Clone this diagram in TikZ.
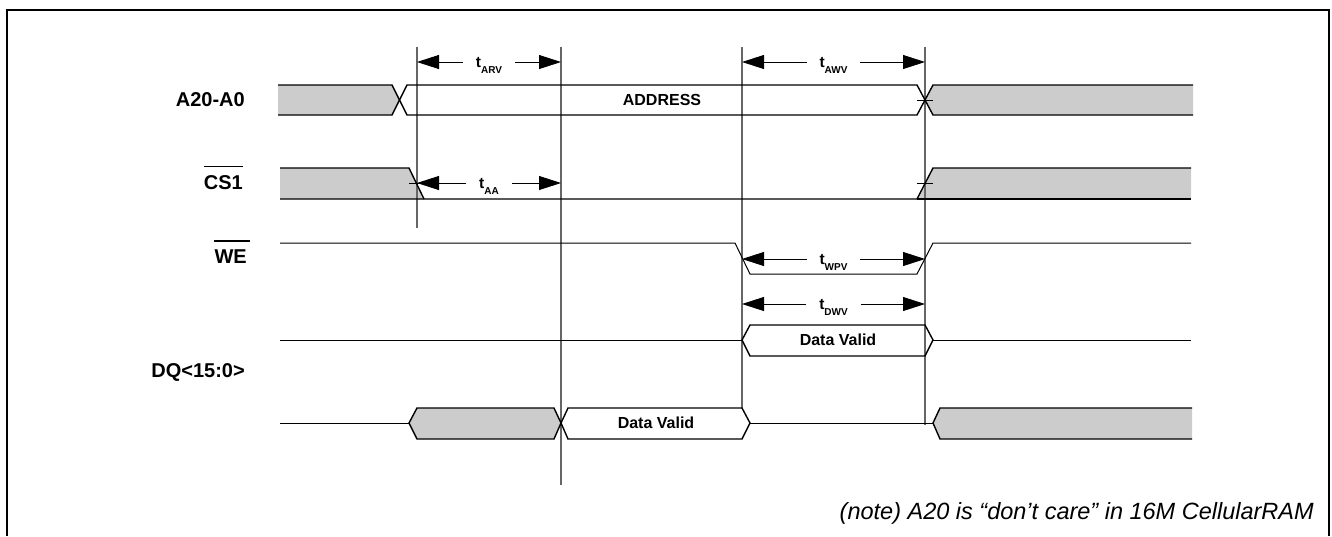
\documentclass[tikz,border=0pt]{standalone}
\usepackage{fontspec}
\setmainfont{Liberation Sans}
\usetikzlibrary{arrows.meta}
\newcommand\tsub[1]{{\fontsize{15.5}{15.5}\selectfont t}\raisebox{-6pt}{\fontsize{10}{10}\selectfont #1}}
\begin{document}
\begin{tikzpicture}[x=1pt,y=-1pt,
 bus/.style={line width=1.4pt, black, line join=miter},
 greyfill/.style={fill=black!20},
 sig/.style={line width=1pt, black},
 vline/.style={line width=1.1pt, black!60},
 dim/.style={line width=0.8pt, black, {Triangle[length=22pt,width=14pt]}-{Triangle[length=22pt,width=14pt]}},
 tlab/.style={fill=white, inner xsep=13pt, inner ysep=0pt, yshift=-3pt, font=\bfseries},
 sigl/.style={anchor=east, inner sep=0pt, font=\fontsize{20}{20}\selectfont\bfseries},
 txt/.style={inner sep=0pt, font=\fontsize{16}{16}\selectfont\bfseries},
 tick/.style={line width=0.7pt, black},
 ovl/.style={line width=1.3pt, black}]
\useasboundingbox (0,0) rectangle (1332,536);
% frame
\draw[line width=1.3pt] (7,536) -- (7,10) -- (1329,10) -- (1329,536);

% grey fills
\fill[greyfill] (278,85) -- (392,85) -- (399.5,100) -- (392,115) -- (278,115) -- cycle;
\fill[greyfill] (925,100) -- (933,85) -- (1193,85) -- (1193,115) -- (933,115) -- cycle;
\fill[greyfill] (280,168) -- (409,168) -- (424,199) -- (280,199) -- cycle;
\fill[greyfill] (917,199) -- (933,168) -- (1191,168) -- (1191,199) -- cycle;
\fill[greyfill] (409,423) -- (417,408) -- (554,408) -- (561,423) -- (554,439) -- (417,439) -- cycle;
\fill[greyfill] (933,423) -- (940,408) -- (1192,408) -- (1192,439) -- (940,439) -- cycle;

% vertical reference lines
\coordinate (v1t) at (417,47); \coordinate (v1b) at (417,228);
\coordinate (v2t) at (561,47); \coordinate (v2b) at (561,485);
\coordinate (v3t) at (742,47); \coordinate (v3b) at (742,408);
\coordinate (v4t) at (925,47); \coordinate (v4b) at (925,425);
\draw[vline] (v1t) -- (v1b);
\draw[vline] (v2t) -- (v2b);
\draw[vline] (v3t) -- (v3b);
\draw[vline] (v4t) -- (v4b);

% A20-A0
\draw[bus] (278,85) -- (392,85) -- (407,115) -- (917,115) -- (933,85) -- (1193,85);
\draw[bus] (278,115) -- (392,115) -- (407,85) -- (917,85) -- (933,115) -- (1193,115);
\draw[tick] (917,100) -- (933,100);
\node[txt] (addr) at (662,100) {ADDRESS};

% CS1
\draw[bus] (280,168) -- (409,168) -- (424,199);
\draw[bus] (280,199) -- (917,199) -- (933,168) -- (1191,168);
\draw[bus] (917,199) -- (1191,199);
\draw[tick] (409,183) -- (425,183);
\draw[tick] (917,183) -- (933,183);

% WE
\draw[sig] (280,243) -- (735,243) -- (750,274) -- (917,274) -- (933,243) -- (1191,243);

% DQ upper
\draw[sig] (280,340) -- (742,340);
\draw[bus] (742,340) -- (750,325) -- (925,325) -- (933,340) -- (925,356) -- (750,356) -- cycle;
\draw[sig] (933,340) -- (1191,340);
\node[txt] (dv1) at (838,340) {Data Valid};

% DQ lower
\draw[sig] (280,423) -- (409,423);
\draw[bus] (409,423) -- (417,408) -- (554,408) -- (561,423) -- (554,439) -- (417,439) -- cycle;
\draw[bus] (561,423) -- (568,408) -- (742,408) -- (750,423) -- (742,439) -- (568,439) -- cycle;
\draw[sig] (750,423) -- (933,423);
\draw[bus] (1192,408) -- (940,408) -- (933,423) -- (940,439) -- (1192,439);
\node[txt] (dv2) at (656,423) {Data Valid};

% timing arrows
\coordinate (arvL) at (417,62); \coordinate (arvR) at (561,62);
\coordinate (awvL) at (742,62); \coordinate (awvR) at (925,62);
\coordinate (aaL) at (417,183); \coordinate (aaR) at (561,183);
\coordinate (wpvL) at (742,259); \coordinate (wpvR) at (925,259);
\coordinate (dwvL) at (742,304); \coordinate (dwvR) at (925,304);
\draw[dim] (arvL) -- (arvR) node[tlab, midway] (tarv) {\tsub{ARV}};
\draw[dim] (awvL) -- (awvR) node[tlab, midway] (tawv) {\tsub{AWV}};
\draw[dim] (aaL) -- (aaR) node[tlab, midway] (taa) {\tsub{AA}};
\draw[dim] (wpvL) -- (wpvR) node[tlab, midway] (twpv) {\tsub{WPV}};
\draw[dim] (dwvL) -- (dwvR) node[tlab, midway] (tdwv) {\tsub{DWV}};

% signal labels
\node[sigl] (la) at (245,100) {A20-A0};
\node[sigl] (lcs) at (243,183) {CS1};
\draw[ovl] ([yshift=9pt]lcs.north west) -- ([yshift=9pt]lcs.north east);
\node[sigl] (lwe) at (247,257) {WE};
\draw[ovl] ([yshift=9pt]lwe.north west) -- ([yshift=9pt,xshift=3pt]lwe.north east);
\node[sigl] (ldq) at (245,372) {DQ<15:0>};

% note
\node[anchor=base east, inner sep=0pt, font=\fontsize{23.5}{23.5}\selectfont\itshape] (note) at (1314,519) {(note) A20 is “don’t care” in 16M CellularRAM};
\end{tikzpicture}
\end{document}
